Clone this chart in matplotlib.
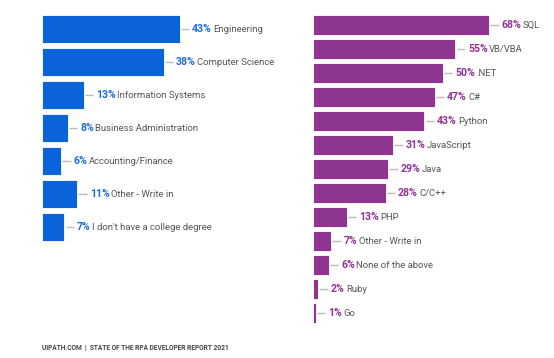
import matplotlib
matplotlib.use('Agg')
import matplotlib.pyplot as plt

majors = ['Engineering', 'Computer Science', 'Information Systems',
          'Business Administration', 'Accounting/Finance',
          'Other - Write in', "I don't have a college degree"]
major_pct = [43, 38, 13, 8, 6, 11, 7]

languages = ['SQL', 'VB/VBA', '.NET', 'C#', 'Python', 'JavaScript', 'Java',
             'C/C++', 'PHP', 'Other - Write in', 'None of the above',
             'Ruby', 'Go']
language_pct = [68, 55, 50, 47, 43, 31, 29, 28, 13, 7, 6, 2, 1]

BLUE = '#0A63D9'
BLUE_TXT = '#1C6BDE'
PURPLE = '#8E3590'
PURPLE_TXT = '#93309A'
GRAY = '#555555'
LINE = '#BBBBBB'

W, H = 554, 358
plt.rcParams['font.family'] = ['Roboto', 'DejaVu Sans']

fig = plt.figure(figsize=(W / 100, H / 100), dpi=100)


def px_axes(x0, y0, x1, y1):
    """axes placed by pixel box (top-left origin)"""
    return fig.add_axes([x0 / W, 1 - y1 / H, (x1 - x0) / W, (y1 - y0) / H])


def draw_panel(ax, names, vals, color, txt_color, px_per, pitch, bar_h):
    n = len(names)
    ax.barh(range(n), vals, height=bar_h / pitch, color=color,
            edgecolor='white', linewidth=0.6)
    ax.set_ylim(n - 0.5, -0.5)
    ax.axis('off')
    fig.canvas.draw()
    r = fig.canvas.get_renderer()
    for i, (name, v) in enumerate(zip(names, vals)):
        ax.plot([v + 1.2 / px_per, v + 9.5 / px_per], [i, i], color=LINE,
                lw=1.0, solid_capstyle='butt')
        t = ax.text(v + 12.5 / px_per, i, f'{v}%', color=txt_color,
                    fontsize=7.6, fontweight='bold', va='center', ha='left')
        bb = t.get_window_extent(r).transformed(ax.transData.inverted())
        ax.text(bb.x1 + 1.5 / px_per, i, name, color=GRAY, fontsize=6.8,
                va='center', ha='left')


# left panel: 0% at x=42, 3.2 px per percent, rows 33 px apart
ax1 = px_axes(42, 12.5, 277, 12.5 + 33 * 7)
ax1.set_xlim(0, 235 / 3.2)
draw_panel(ax1, majors, major_pct, BLUE, BLUE_TXT, 3.2, 33, 28)

# right panel: 0% at x=313, 2.59 px per percent, rows 24 px apart
ax2 = px_axes(313, 13, 554, 13 + 24 * 13)
ax2.set_xlim(0, 241 / 2.59)
draw_panel(ax2, languages, language_pct, PURPLE, PURPLE_TXT, 2.59, 24, 20)

fig.text(42 / W, 1 - 348 / H,
         'UIPATH.COM  |  STATE OF THE RPA DEVELOPER REPORT 2021',
         fontsize=4.8, fontweight='bold', color='#444444', va='center',
         ha='left')

fig.savefig('out.png', dpi=100)
